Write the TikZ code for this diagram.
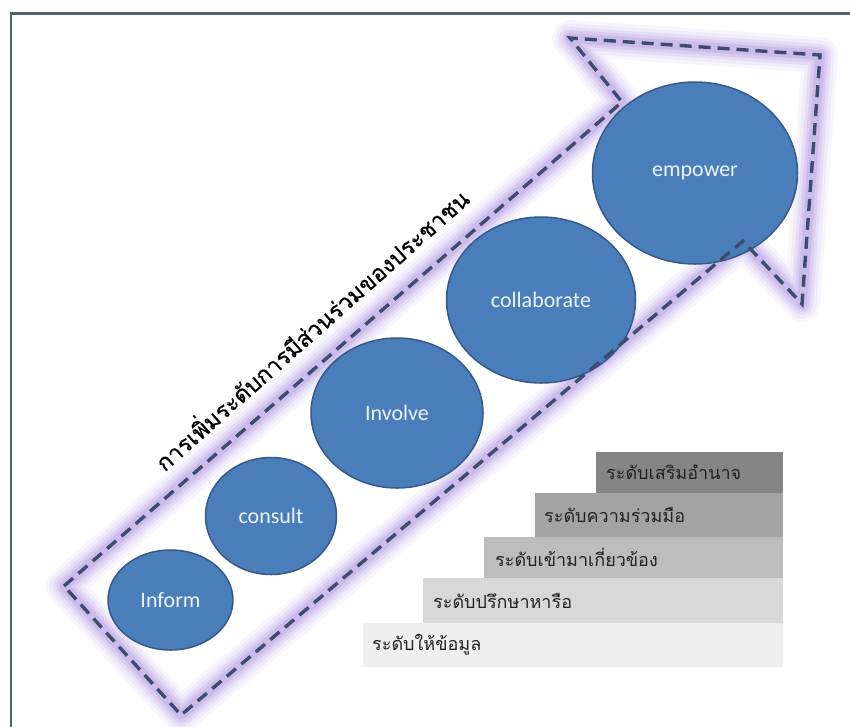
\documentclass[tikz,border=0pt]{standalone}
\usepackage{fontspec}
\setmainfont{Carlito}
\newfontfamily\thaifont[Script=Thai]{Loma}
\newfontfamily\thaititle[Script=Thai,FakeBold=0.6]{Loma}
\usetikzlibrary{shapes.geometric}
\definecolor{bubblefill}{HTML}{4A7EBB}
\definecolor{bubbleline}{HTML}{34598A}
\definecolor{bubbletext}{HTML}{EEF3FA}
\definecolor{dashcol}{HTML}{3E4A6E}
\definecolor{glowcol}{HTML}{9D80DD}
\definecolor{framecol}{HTML}{55636C}
\definecolor{stepA}{HTML}{858585}
\definecolor{stepB}{HTML}{A3A3A3}
\definecolor{stepC}{HTML}{BDBDBD}
\definecolor{stepD}{HTML}{D8D8D8}
\definecolor{stepE}{HTML}{EFEFEF}
\definecolor{steptext}{HTML}{222222}
\tikzset{
  bubble/.style={ellipse, draw=bubbleline, line width=1.5pt, fill=bubblefill,
    text=bubbletext, font=\fontsize{22}{24}\selectfont, inner sep=0pt},
  stepbox/.style={rectangle, anchor=north west, inner sep=0pt, draw=none},
  steplabel/.style={anchor=west, text=steptext, inner sep=0pt,
    font=\thaifont\fontsize{18}{20}\selectfont},
  glowline/.style={glowcol, line join=round},
  dashline/.style={dashcol, line width=3.4pt, dash pattern=on 12pt off 7pt, line join=miter}
}
\begin{document}
\begin{tikzpicture}[x=1pt,y=-1pt]
\useasboundingbox (0,0) rectangle (850,726);
\fill[white] (0,0) rectangle (850,726);
% frame
\coordinate (f1) at (11,740);
\coordinate (f2) at (11,13.5);
\coordinate (f3) at (860,13.5);
\draw[framecol, line width=2.5pt] (f1) -- (f2) -- (f3);
% arrow outline points
\coordinate (A) at (64,586);
\coordinate (B) at (622,102);
\coordinate (C) at (570,38);
\coordinate (D) at (820,55);
\coordinate (E) at (802,304);
\coordinate (F) at (743,241);
\coordinate (G) at (181,715);
% glow
\foreach \w/\o in {36/0.07,29/0.09,22/0.12,16/0.16,10/0.22}
  \draw[glowline, line width=\w pt, opacity=\o] (A)--(B)--(C)--(D)--(E)--(F)--(G)--cycle;
% bubbles
\node[bubble, minimum width=125pt, minimum height=100pt] (inform) at (170.5,600) {Inform};
\node[bubble, minimum width=131pt, minimum height=117pt] (consult) at (271,516) {consult};
\node[bubble, minimum width=172pt, minimum height=150pt] (involve) at (397,413) {Involve};
\node[bubble, minimum width=189pt, minimum height=166pt] (collab) at (541,300) {collaborate};
\node[bubble, minimum width=205pt, minimum height=182pt] (empower) at (695,173) {empower};
% dashed outline
\draw[dashline] (A)--(B)--(C)--(D)--(E)--(F)--(G)--cycle;
% rotated title
\node[font=\thaititle\fontsize{23}{25}\selectfont, rotate=41.5, anchor=base, inner sep=0pt]
  (title) at (318,337) {การเพิ่มระดับการมีส่วนร่วมของประชาชน};
% steps
\node[stepbox, fill=stepE, minimum width=420pt, minimum height=44pt] (s5) at (363,623) {};
\node[stepbox, fill=stepD, minimum width=360pt, minimum height=45pt] (s4) at (423,578) {};
\node[stepbox, fill=stepC, minimum width=299pt, minimum height=41pt] (s3) at (484,537) {};
\node[stepbox, fill=stepB, minimum width=248pt, minimum height=44pt] (s2) at (535,493) {};
\node[stepbox, fill=stepA, minimum width=187pt, minimum height=41pt] (s1) at (596,452) {};
\node[steplabel] (t5) at (372,645) {ระดับให้ข้อมูล};
\node[steplabel] (t4) at (433,600.5) {ระดับปรึกษาหารือ};
\node[steplabel] (t3) at (495,557.5) {ระดับเข้ามาเกี่ยวข้อง};
\node[steplabel] (t2) at (544,515) {ระดับความร่วมมือ};
\node[steplabel] (t1) at (606,472.5) {ระดับเสริมอำนาจ};
\end{tikzpicture}
\end{document}
